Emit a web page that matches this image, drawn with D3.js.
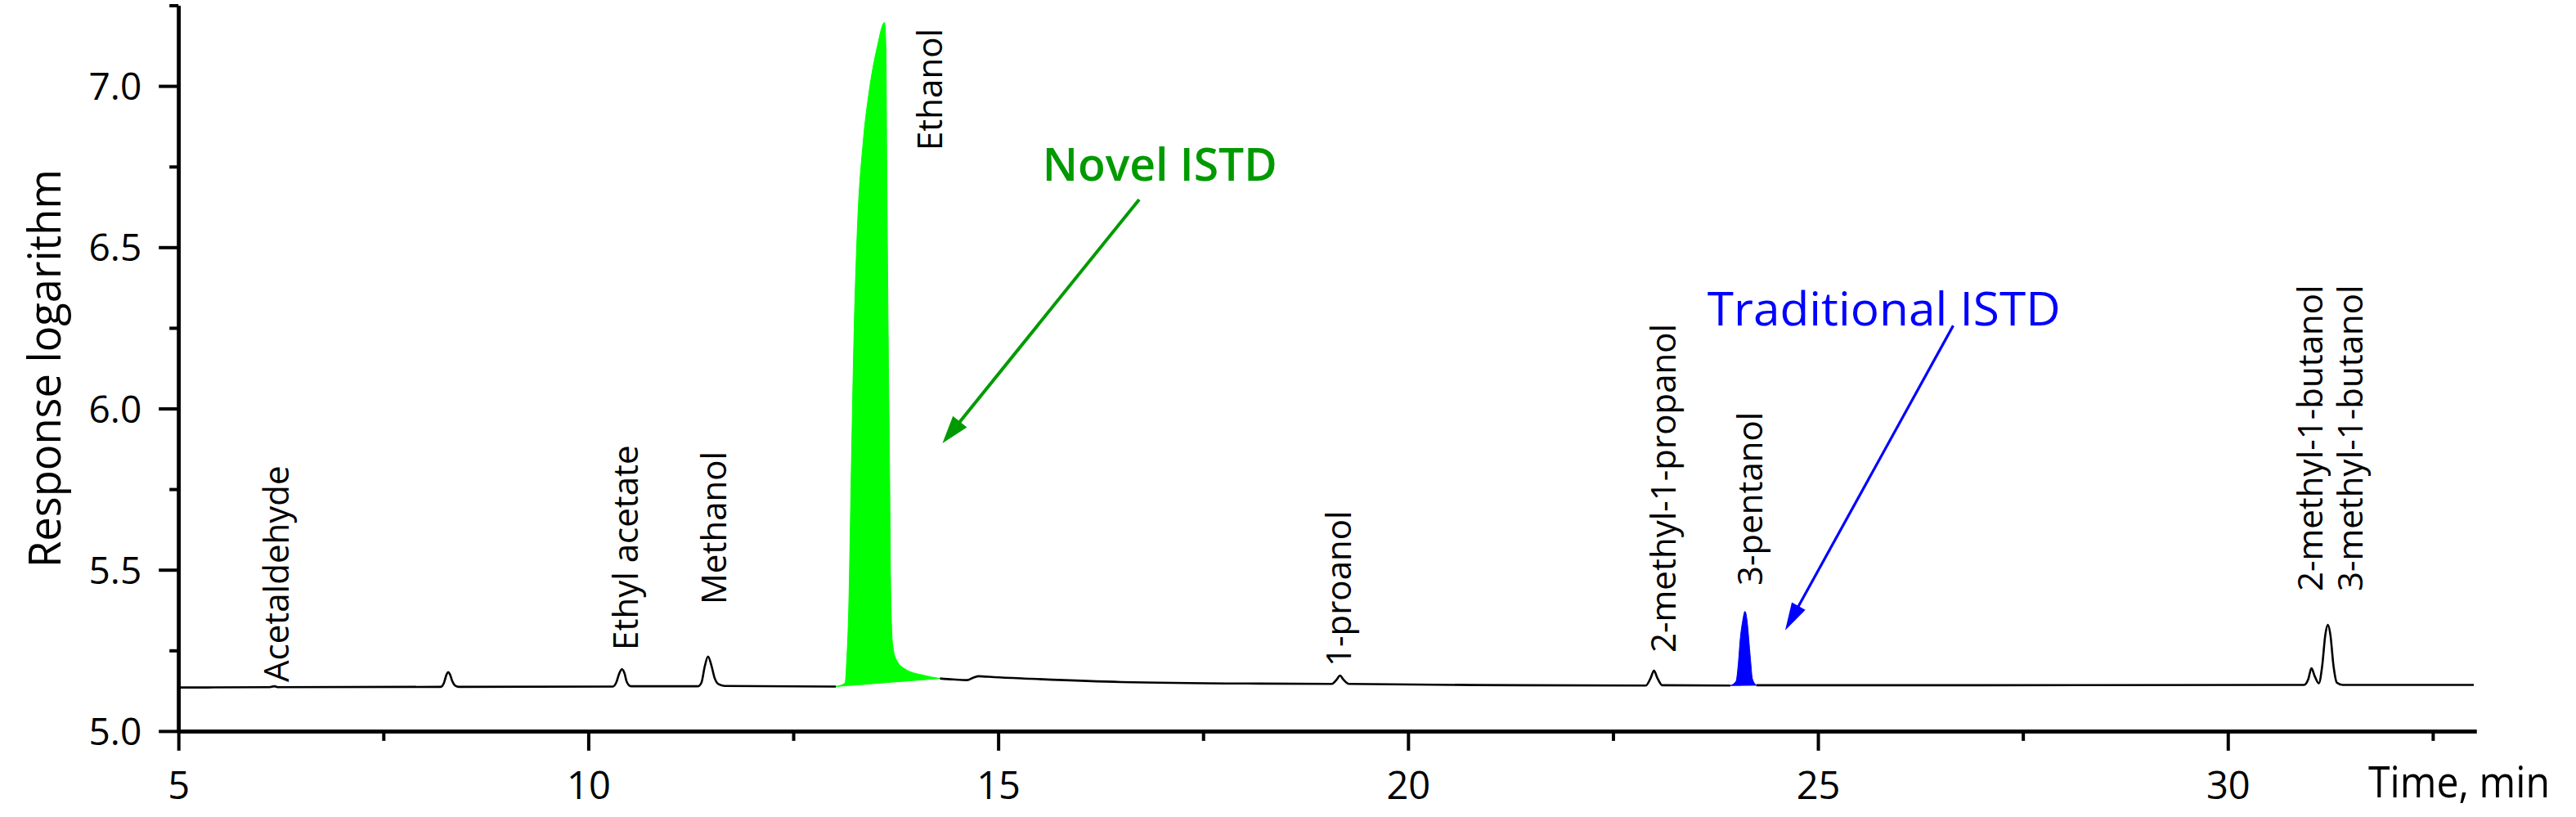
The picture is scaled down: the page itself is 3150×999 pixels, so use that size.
<!DOCTYPE html>
<html>
<head>
<meta charset="utf-8">
<script src="https://cdn.jsdelivr.net/npm/d3@7"></script>
<style>
html, body { margin: 0; padding: 0; background: #ffffff; }
svg { display: block; }
text { font-family: "Segoe UI", "Open Sans", "Noto Sans", sans-serif; fill: #000; }
</style>
</head>
<body>
<svg id="chart" width="3150" height="999"></svg>
<script>
// ---------------- data ----------------
const timeMin = [
  5.00, 6.10, 6.17, 6.22,
  8.20, 8.24, 8.27, 8.29, 8.31, 8.34, 8.38, 8.42,
  10.30, 10.34, 10.38, 10.41, 10.44, 10.47, 10.52,
  11.34, 11.38, 11.42, 11.46, 11.50, 11.54, 11.59, 11.66,
  13.02, 13.132, 13.154, 13.176, 13.208, 13.243, 13.279, 13.354, 13.421, 13.524, 13.613,
  13.630, 13.643, 13.657, 13.675, 13.688, 13.711, 13.755, 13.866, 14.089, 14.29,
  14.45, 14.62, 14.70, 14.76, 14.95, 15.40, 16.50, 18.20,
  19.07, 19.13, 19.17, 19.21, 19.28, 21.40,
  22.90, 22.96, 23.00, 23.04, 23.10,
  23.93, 24.00, 24.03, 24.05, 24.08, 24.11, 24.14, 24.16, 24.18, 24.20, 24.25,
  27.00, 30.93, 30.98, 31.02, 31.06, 31.11, 31.15, 31.19, 31.22, 31.25, 31.29, 31.33, 31.40, 33.00
];
const responseLog = [
  5.135, 5.136, 5.139, 5.136,
  5.137, 5.150, 5.175, 5.183, 5.177, 5.155, 5.140, 5.137,
  5.138, 5.150, 5.180, 5.192, 5.180, 5.152, 5.139,
  5.139, 5.150, 5.200, 5.231, 5.205, 5.165, 5.145, 5.140,
  5.138, 5.149, 5.229, 5.374, 5.811, 6.248, 6.539, 6.830, 6.975, 7.121, 7.197,
  7.121, 6.684, 6.248, 5.811, 5.447, 5.272, 5.222, 5.192, 5.173, 5.163,
  5.160, 5.158, 5.166, 5.170, 5.167, 5.162, 5.152, 5.147,
  5.146, 5.160, 5.172, 5.160, 5.146, 5.142,
  5.141, 5.165, 5.187, 5.165, 5.142,
  5.141, 5.154, 5.213, 5.280, 5.339, 5.371, 5.331, 5.272, 5.213, 5.162, 5.142,
  5.142, 5.143, 5.160, 5.195, 5.170, 5.148, 5.200, 5.300, 5.329, 5.300, 5.200, 5.150, 5.143, 5.143
];

// internal-standard peak windows (min)
const novelIstdWindow = [13.02, 14.29];
const traditionalIstdWindow = [23.93, 24.25];

// compound labels: name, anchor time, anchor response (start of rotated text)
const compoundNames = ["Acetaldehyde", "Ethyl acetate", "Methanol", "Ethanol", "1-proanol",
  "2-methyl-1-propanol", "3-pentanol", "2-methyl-1-butanol", "3-methyl-1-butanol"];
const compoundLabelTime = [6.344, 10.60, 11.68, 14.32, 19.30, 23.26, 24.32, 31.15, 31.64];
const compoundLabelResponse = [5.152, 5.251, 5.393, 6.80, 5.200, 5.243, 5.451, 5.433, 5.433];

// axis ticks
const xMajorTicks = [5, 10, 15, 20, 25, 30];
const xMinorTicks = [7.5, 12.5, 17.5, 22.5, 27.5, 32.5];
const yMajorTicks = [5.0, 5.5, 6.0, 6.5, 7.0];
const yMinorTicks = [5.25, 5.75, 6.25, 6.75, 7.25];

// annotations (data coordinates)
const novelText = { label: "Novel ISTD", t: 15.54, v: 6.706 };
const novelArrow = { t1: 16.72, v1: 6.648, t2: 14.32, v2: 5.892 };
const tradText = { label: "Traditional ISTD", t: 23.65, v: 6.257 };
const tradArrow = { t1: 26.65, v1: 6.257, t2: 24.60, v2: 5.312 };

// ---------------- drawing ----------------
const svg = d3.select("#chart");
const x = d3.scaleLinear().domain([5, 33.03]).range([218.2, 3028]);
const y = d3.scaleLinear().domain([5, 7.25]).range([893.9, 6.5]);

const pts = timeMin.map((t, i) => ({ t: t, v: responseLog[i] }));
const inWin = (t, w) => t >= w[0] && t <= w[1];
const strictIn = (t, w) => t > w[0] && t < w[1];

function areaFor(w, color) {
  const seg = pts.filter(d => inWin(d.t, w));
  const a = seg[0], b = seg[seg.length - 1];
  const base = d3.scaleLinear().domain([a.t, b.t]).range([a.v, b.v]);
  svg.append("path")
    .datum(seg)
    .attr("fill", color)
    .attr("stroke", color)
    .attr("stroke-width", 1)
    .attr("d", d3.area()
      .x(d => x(d.t))
      .y0(d => y(base(d.t)))
      .y1(d => y(d.v))
      .curve(d3.curveMonotoneX));
}
areaFor(novelIstdWindow, "#00ff00");
areaFor(traditionalIstdWindow, "#0000ff");

svg.append("path")
  .datum(pts)
  .attr("fill", "none")
  .attr("stroke", "#000")
  .attr("stroke-width", 2.6)
  .attr("stroke-linejoin", "round")
  .attr("d", d3.line()
    .defined(d => !strictIn(d.t, novelIstdWindow) && !strictIn(d.t, traditionalIstdWindow))
    .x(d => x(d.t))
    .y(d => y(d.v))
    .curve(d3.curveMonotoneX));

// axes
const axisStroke = 4.5;
const xAxisG = svg.append("g").attr("transform", `translate(0,${y(5)})`);
xAxisG.append("g").call(d3.axisBottom(x).tickValues(xMinorTicks).tickSize(12).tickSizeOuter(0).tickFormat(""));
xAxisG.append("g").call(d3.axisBottom(x).tickValues(xMajorTicks).tickSize(24).tickSizeOuter(0).tickFormat(d3.format("d")));
xAxisG.selectAll("text").attr("y", 83).attr("dy", 0).style("font-size", "47px");

const yAxisG = svg.append("g").attr("transform", `translate(${x(5)},0)`);
yAxisG.append("g").call(d3.axisLeft(y).tickValues(yMinorTicks).tickSize(11).tickSizeOuter(0).tickFormat(""));
yAxisG.append("g").call(d3.axisLeft(y).tickValues(yMajorTicks).tickSize(24).tickPadding(21).tickSizeOuter(0).tickFormat(d3.format(".1f")));
yAxisG.selectAll("text").attr("dy", "0.36em").style("font-size", "46px");

svg.selectAll(".domain").attr("stroke", "#000").attr("stroke-width", axisStroke);
svg.selectAll(".tick line").attr("stroke", "#000").attr("stroke-width", 4);
svg.selectAll(".tick text").style("fill", "#000");

// axis titles
svg.append("text")
  .attr("transform", `translate(74,450.5) rotate(-90)`)
  .attr("text-anchor", "middle")
  .attr("textLength", 487)
  .attr("lengthAdjust", "spacingAndGlyphs")
  .style("font-size", "55px")
  .text("Response logarithm");

svg.append("text")
  .attr("x", 2896)
  .attr("y", 975)
  .attr("textLength", 222)
  .attr("lengthAdjust", "spacingAndGlyphs")
  .style("font-size", "53px")
  .text("Time, min");

// compound labels
compoundNames.forEach((name, i) => {
  svg.append("text")
    .attr("transform", `translate(${x(compoundLabelTime[i])},${y(compoundLabelResponse[i])}) rotate(-90)`)
    .attr("text-anchor", "start")
    .style("font-size", "42px")
    .text(name);
});

// annotation arrows
function arrow(a, color, width, headLen, headW) {
  const x1 = x(a.t1), y1 = y(a.v1), x2 = x(a.t2), y2 = y(a.v2);
  const ang = Math.atan2(y2 - y1, x2 - x1);
  const bx = x2 - headLen * Math.cos(ang), by = y2 - headLen * Math.sin(ang);
  svg.append("line")
    .attr("x1", x1).attr("y1", y1).attr("x2", bx + 2 * Math.cos(ang)).attr("y2", by + 2 * Math.sin(ang))
    .attr("stroke", color).attr("stroke-width", width);
  const px = -Math.sin(ang) * headW / 2, py = Math.cos(ang) * headW / 2;
  svg.append("polygon")
    .attr("points", `${x2},${y2} ${bx + px},${by + py} ${bx - px},${by - py}`)
    .attr("fill", color);
}
arrow(novelArrow, "#009a00", 4, 34, 22);
arrow(tradArrow, "#0000ff", 3.2, 34, 19);

svg.append("text")
  .attr("x", x(novelText.t)).attr("y", y(novelText.v))
  .attr("textLength", 287).attr("lengthAdjust", "spacingAndGlyphs")
  .style("font-size", "56px").style("font-weight", 600).style("fill", "#009a00")
  .text(novelText.label);

svg.append("text")
  .attr("x", x(tradText.t)).attr("y", y(tradText.v))
  .attr("textLength", 432).attr("lengthAdjust", "spacingAndGlyphs")
  .style("font-size", "57px").style("fill", "#0000ff")
  .text(tradText.label);
</script>
</body>
</html>
